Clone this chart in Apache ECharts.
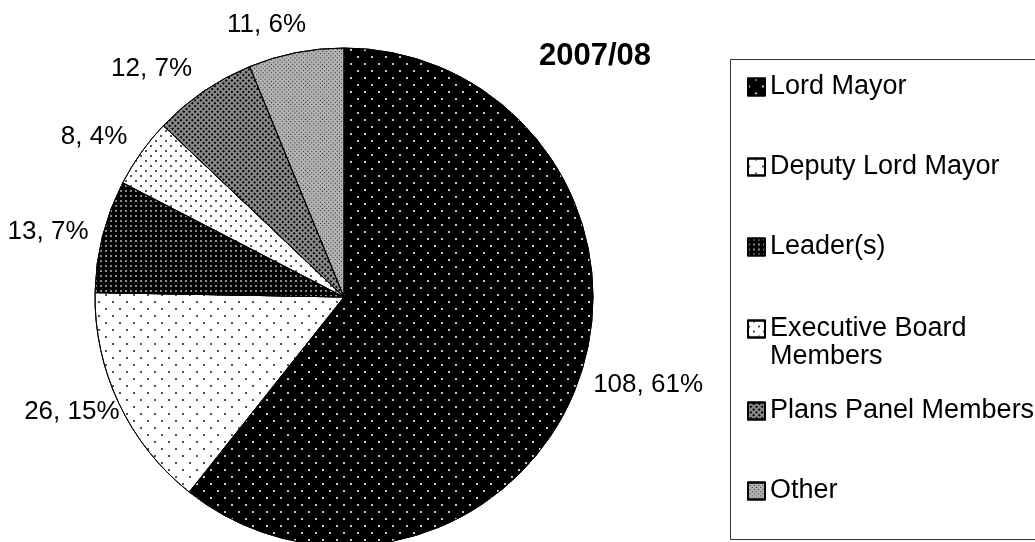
<!DOCTYPE html>
<html>
<head>
<meta charset="utf-8">
<script src="https://cdn.jsdelivr.net/npm/echarts@6/dist/echarts.min.js"></script>
<style>
  html, body { margin: 0; padding: 0; background: #fff; }
  #chart { width: 1035px; height: 542px; }
</style>
</head>
<body>
<div id="chart"></div>
<script>
// ---- data ----
const title = '2007/08';
const categories = ['Lord Mayor', 'Deputy Lord Mayor', 'Leader(s)', 'Executive Board Members', 'Plans Panel Members', 'Other'];
const values = [108, 26, 13, 8, 12, 11];

// ---- styles (fill + decal pattern per slice) ----
const fills = [
  { color: '#000000', decal: { symbol: 'rect', color: '#c8c8c8', dashArrayX: [[2, 12], [0, 7, 2, 5]], dashArrayY: [2, 5], symbolSize: 1 } },
  { color: '#ffffff', decal: { symbol: 'rect', color: '#555555', dashArrayX: [[2, 12], [0, 7, 2, 5]], dashArrayY: [2, 5], symbolSize: 1 } },
  { color: '#000000', decal: { symbol: 'rect', color: '#8a8a8a', dashArrayX: [[2, 3]], dashArrayY: [2, 3], symbolSize: 1 } },
  { color: '#ffffff', decal: { symbol: 'rect', color: '#555555', dashArrayX: [[2, 8], [0, 5, 2, 3]], dashArrayY: [2, 3], symbolSize: 1 } },
  { color: '#8a8a8a', decal: { symbol: 'rect', color: '#000000', dashArrayX: [[2, 2]], dashArrayY: [2, 2], symbolSize: 1, rotation: Math.PI / 4 } },
  { color: '#b4b4b4', decal: { symbol: 'rect', color: '#202020', dashArrayX: [[1, 2]], dashArrayY: [1, 2], symbolSize: 1, rotation: Math.PI / 4 } }
];
// label line lengths used only to place the outside labels (lines hidden)
const labelLen1 = [19, 21, 17, 27, 28, 28];
const labelLen2 = [46, 23, 33, 20, 31, 19];

const FONT = '"Liberation Sans", Arial, sans-serif';

const pieData = categories.map((name, i) => ({
  name: name,
  value: values[i],
  itemStyle: { color: fills[i].color, decal: fills[i].decal, borderColor: '#000', borderWidth: 1 },
  labelLine: { show: false, length: labelLen1[i], length2: labelLen2[i] }
}));

const legendData = categories.map(name => {
  if (name === 'Executive Board Members') {
    return { name: name, textStyle: { lineHeight: 28 } };
  }
  return { name: name };
});

const chart = echarts.init(document.getElementById('chart'), null, { renderer: 'canvas' });
chart.setOption({
  animation: false,
  backgroundColor: '#ffffff',
  title: {
    text: title,
    left: 539,
    top: 41,
    padding: 0,
    textStyle: { fontFamily: FONT, fontSize: 31, fontWeight: 'bold', color: '#000' }
  },
  legend: {
    orient: 'vertical',
    left: 747,
    top: 47,
    padding: 0,
    itemGap: 0,
    itemWidth: 17,
    itemHeight: 17,
    icon: 'rect',
    selectedMode: false,
    data: legendData,
    // first (blank) line keeps the icon level with "Executive Board"
    formatter: name => name === 'Executive Board Members' ? ' \nExecutive Board\nMembers' : name,
    textStyle: { fontFamily: FONT, fontSize: 27, color: '#000', lineHeight: 80 }
  },
  graphic: [{
    type: 'rect',
    shape: { x: 730.5, y: 59.5, width: 330, height: 480 },
    style: { fill: 'none', stroke: '#333', lineWidth: 1 },
    silent: true
  }],
  series: [{
    type: 'pie',
    center: [344, 297],
    radius: 249,
    startAngle: 90,
    clockwise: true,
    avoidLabelOverlap: false,
    percentPrecision: 0,
    data: pieData,
    label: {
      show: true,
      position: 'outside',
      fontFamily: FONT,
      fontSize: 26,
      color: '#000',
      formatter: p => p.value + ', ' + Math.round(p.percent) + '%'
    },
    labelLine: { show: false },
    labelLayout: { align: 'center' },
    emphasis: { disabled: true }
  }]
});
</script>
</body>
</html>
